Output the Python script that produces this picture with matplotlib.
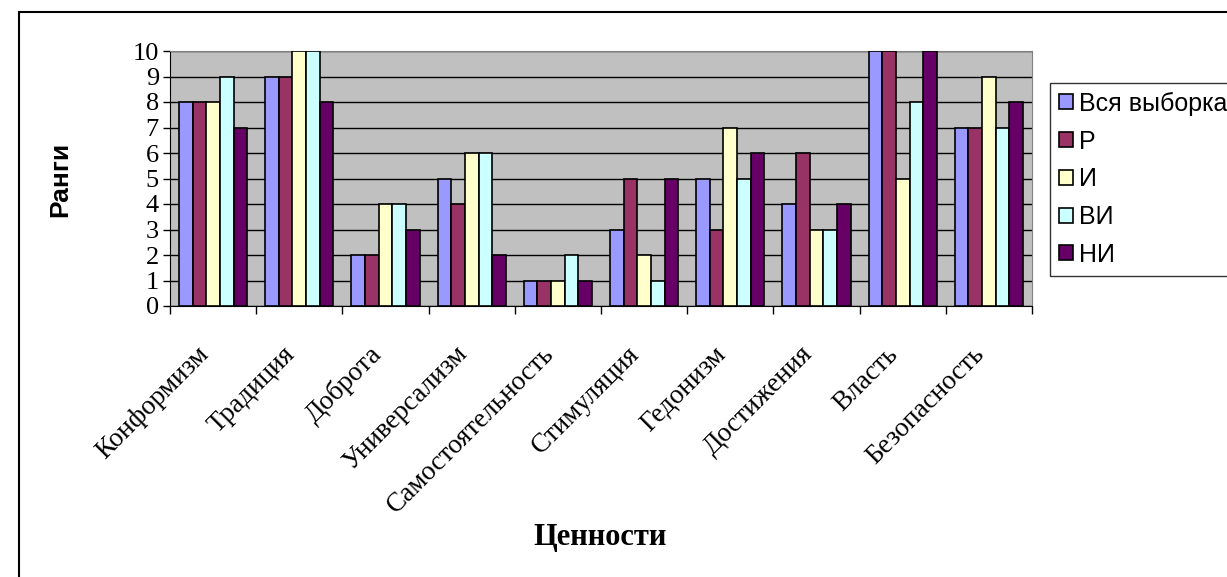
import matplotlib.pyplot as plt
import matplotlib.patches as patches
import matplotlib.transforms as mtransforms
import numpy as np

categories = ["Конформизм", "Традиция", "Доброта", "Универсализм",
              "Самостоятельность", "Стимуляция", "Гедонизм", "Достижения",
              "Власть", "Безопасность"]
series_names = ["Вся выборка", "Р", "И", "ВИ", "НИ"]
vsya = [8, 9, 2, 5, 1, 3, 5, 4, 10, 7]
r = [8, 9, 2, 4, 1, 5, 3, 6, 10, 7]
i_ = [8, 10, 4, 6, 1, 2, 7, 3, 5, 9]
vi = [9, 10, 4, 6, 2, 1, 5, 3, 8, 7]
ni = [7, 8, 3, 2, 1, 5, 6, 4, 10, 8]
colors = ["#9999FF", "#993366", "#FFFFCC", "#CCFFFF", "#660066"]

serif = "Liberation Serif"
sans = "Liberation Sans"

fig = plt.figure(figsize=(12.27, 5.77), dpi=100)
ax = fig.add_axes([170 / 1227, 1 - 306 / 577, 862 / 1227, 255 / 577])
ax.set_facecolor("#C0C0C0")

x = np.arange(len(categories))
bw = 0.158
data = [vsya, r, i_, vi, ni]
bars = []
for k, (vals, c) in enumerate(zip(data, colors)):
    b = ax.bar(x + (k - 2) * bw, vals, width=bw, color=c,
               edgecolor="black", linewidth=1.2, zorder=3)
    bars.append(b)

ax.set_xlim(-0.5, len(categories) - 0.5)
ax.set_ylim(0, 10)
ax.set_yticks(range(11))
ax.set_yticklabels([str(v) for v in range(11)], fontfamily=serif, fontsize=19)
ax.yaxis.grid(True, color="black", linewidth=1.0, zorder=1)
ax.tick_params(axis="y", direction="out", length=5, width=1, pad=3)

# category boundary ticks
ax.set_xticks(np.arange(-0.5, len(categories), 1.0))
ax.set_xticklabels([])
ax.tick_params(axis="x", which="major", direction="out", length=6, width=1)
ax.set_xticks(x, minor=True)
ax.set_xticklabels(categories, minor=True, rotation=45, ha="right",
                   va="center", rotation_mode="anchor", fontfamily=serif,
                   fontsize=19.5)
ax.tick_params(axis="x", which="minor", length=0, pad=32)
shift = mtransforms.ScaledTranslation(-8 / 100, 0, fig.dpi_scale_trans)
for lbl in ax.get_xticklabels(minor=True):
    lbl.set_transform(lbl.get_transform() + shift)

for side in ["top", "right"]:
    ax.spines[side].set_color("#808080")
ax.spines["left"].set_color("black")
ax.spines["bottom"].set_color("black")

fig.text(60 / 1227, 1 - 179 / 577, "Ранги", rotation=90, ha="center",
         va="center", fontfamily=sans, fontweight="bold", fontsize=19)
fig.text(600 / 1227, 1 - 538 / 577, "Ценности", ha="center", va="center",
         fontfamily=serif, fontweight="bold", fontsize=22)

leg = fig.legend([b[0] for b in bars], series_names, loc="upper left",
                 bbox_to_anchor=(1050 / 1227, 1 - 83 / 577),
                 prop={"family": sans, "size": 18}, frameon=True,
                 fancybox=False, edgecolor="black", handlelength=0.55,
                 handleheight=0.55, handletextpad=0.25, labelspacing=0.55,
                 borderpad=0.35, borderaxespad=0)
leg.get_frame().set_linewidth(1.0)

# outer chart frame
frame = patches.Rectangle((19 / 1227, -0.2), 1.2, 1.2 - 12 / 577,
                          transform=fig.transFigure, fill=False,
                          edgecolor="black", linewidth=1.5, clip_on=False)
fig.patches.append(frame)

fig.savefig("out.png", dpi=100)
